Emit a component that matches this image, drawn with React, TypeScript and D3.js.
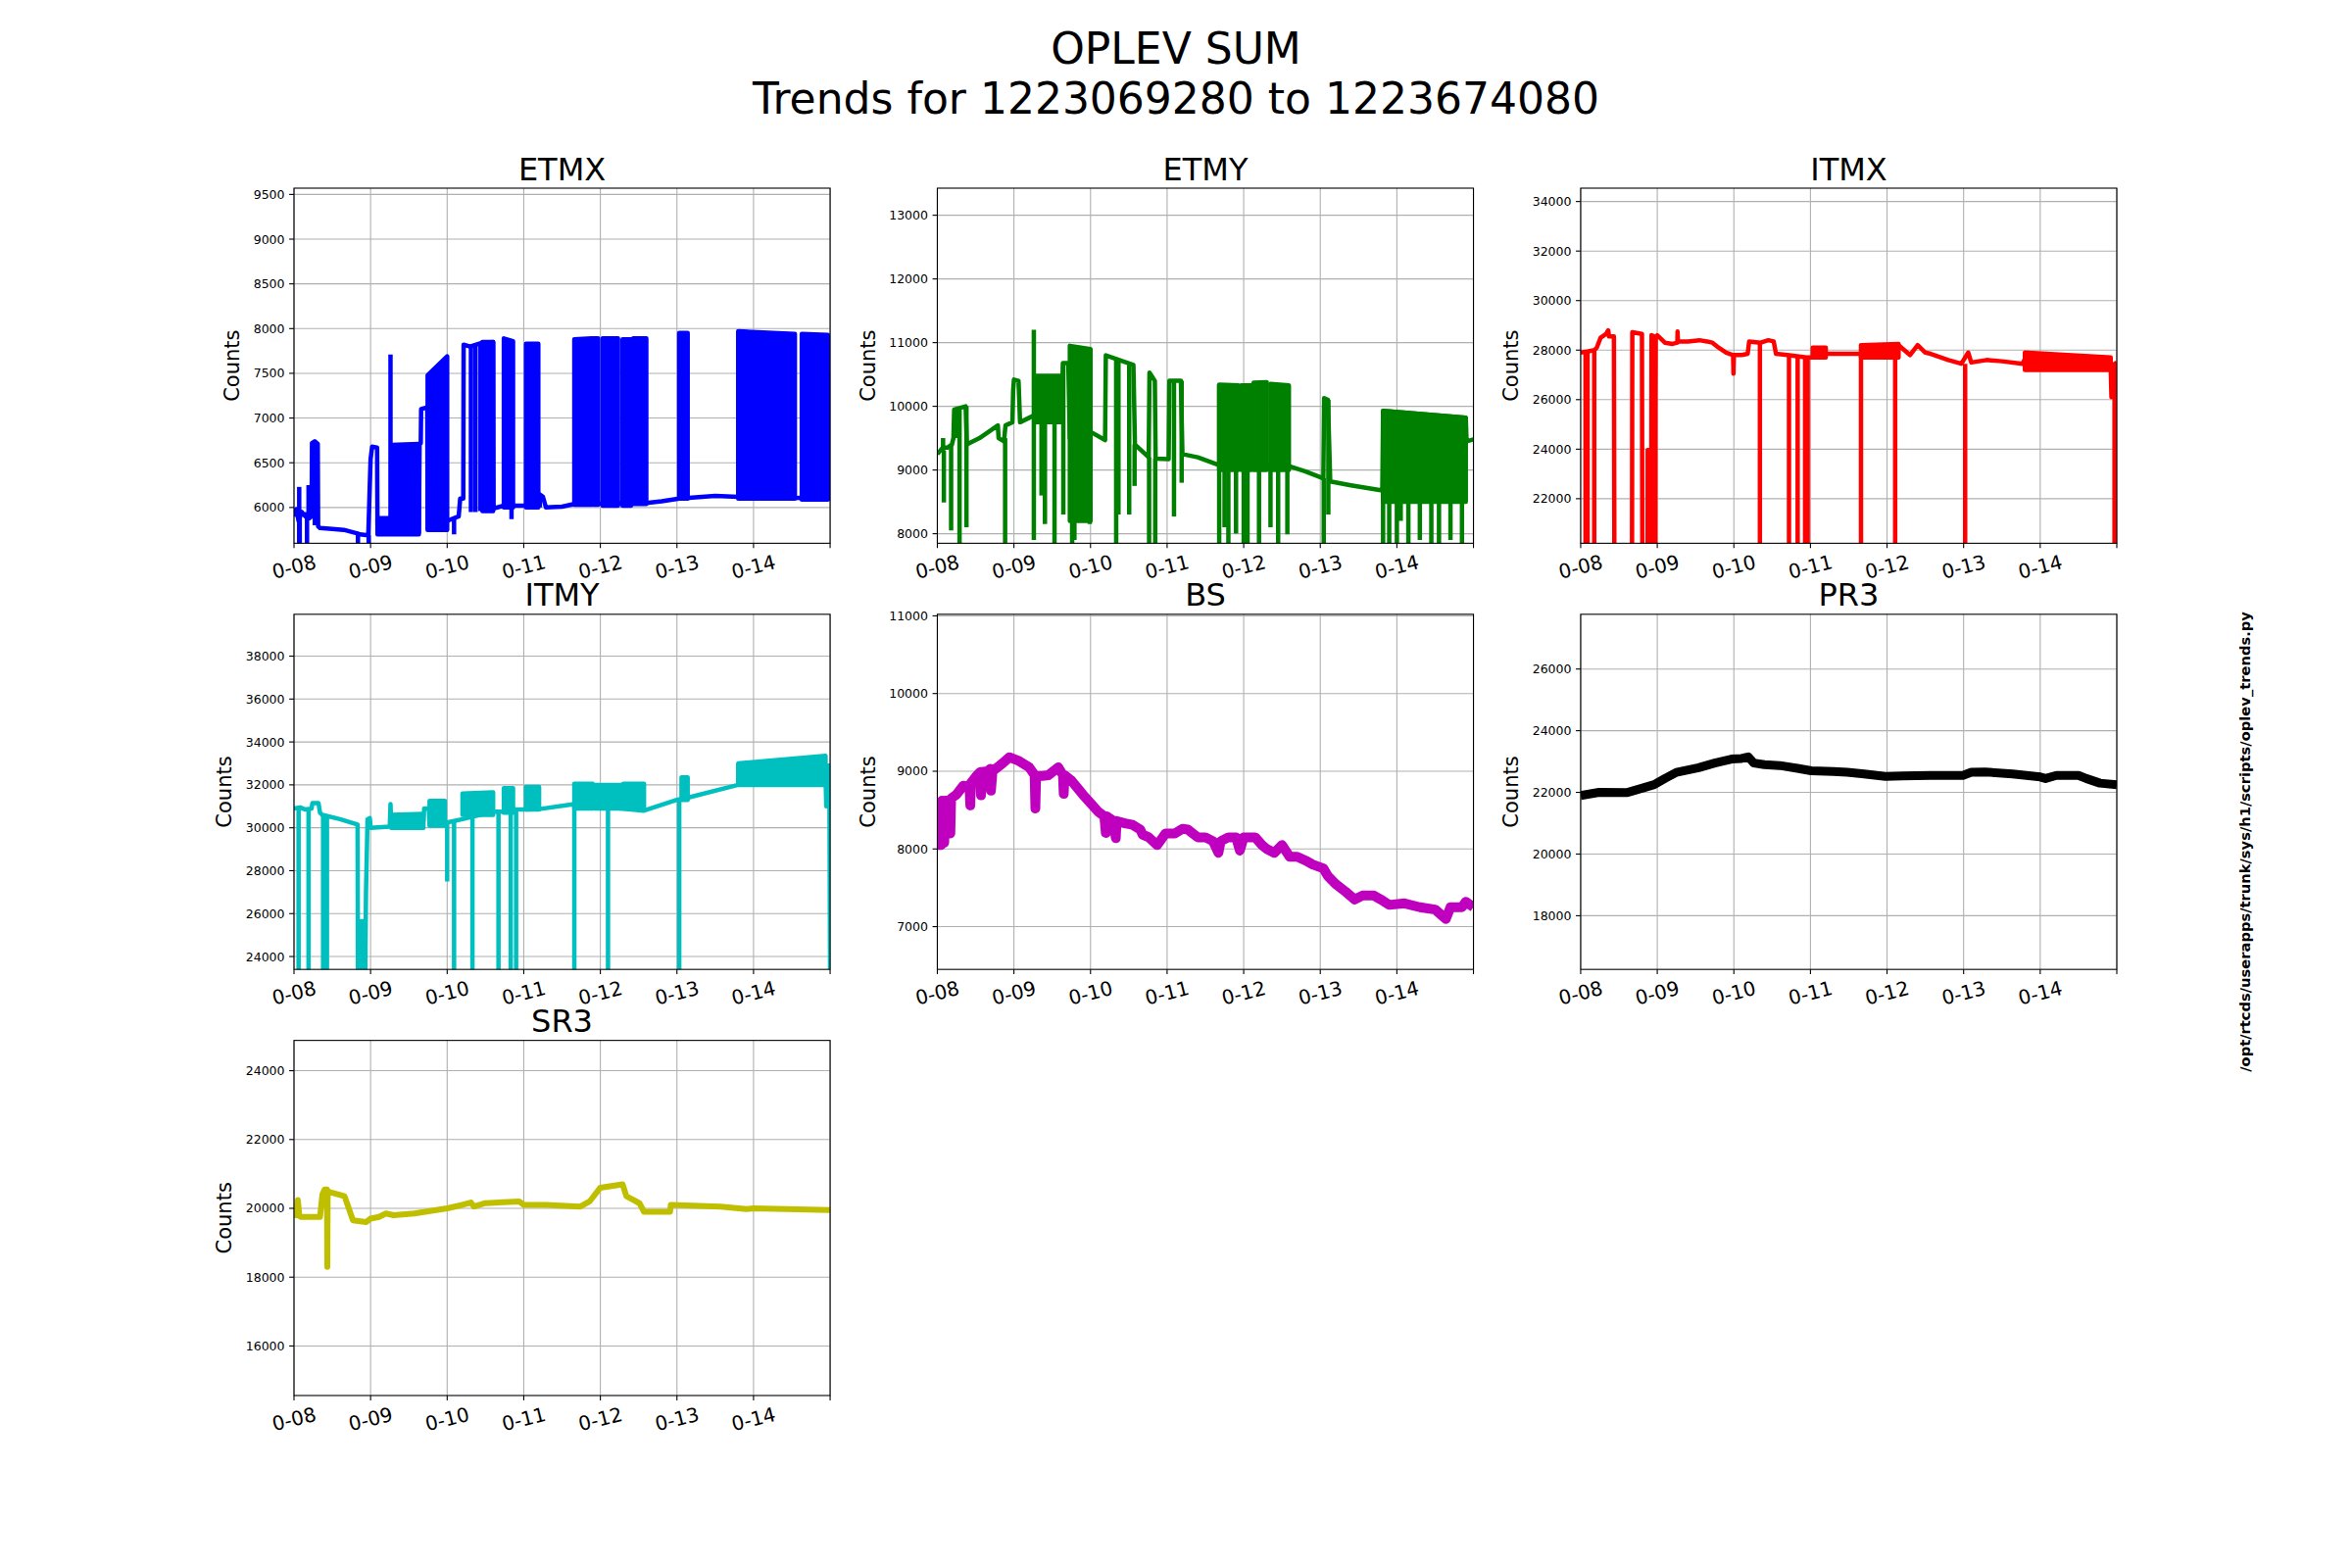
import React, { useEffect } from "react";
import * as d3 from "d3";

// x values are days since the start of the trend window (0-08 .. 0-15)
const dayTicks = [0, 1, 2, 3, 4, 5, 6, 7];
const dayLabels = ["0-08", "0-09", "0-10", "0-11", "0-12", "0-13", "0-14", ""];

const suptitle = ["OPLEV SUM", "Trends for 1223069280 to 1223674080"];
const scriptPath = "/opt/rtcds/userapps/trunk/sys/h1/scripts/oplev_trends.py";

// ---- ETMX ----
const etmxDomain = [5600, 9570];
const etmxTicks = [6000, 6500, 7000, 7500, 8000, 8500, 9000, 9500];
const etmxTrace = [
  [0, 5900], [0.03, 5980], [0.06, 5850], [0.1, 5950], [0.15, 5900], [0.2, 5880],
  [0.23, 5900], [0.235, 6720], [0.27, 6740], [0.31, 6710], [0.315, 5790],
  [0.34, 5770], [0.5, 5760], [0.65, 5750], [0.83, 5710], [0.86, 5700],
  [0.97, 5690], [1.0, 6540], [1.02, 6680], [1.085, 6670], [1.09, 5800],
  [1.25, 5880], [1.27, 5750], [1.63, 5720], [1.64, 6710], [1.655, 6720],
  [1.66, 7100], [1.74, 7120], [1.745, 5760], [2.0, 5850], [2.15, 5900],
  [2.17, 6100], [2.21, 6100], [2.215, 7820], [2.3, 7800], [2.45, 7840],
  [2.6, 7850], [2.605, 5990], [2.74, 6020], [2.86, 6020], [3.03, 6020],
  [3.19, 6030], [3.2, 6150], [3.25, 6120], [3.29, 6000], [3.5, 6010],
  [3.66, 6040], [4.6, 6050], [4.8, 6070], [5.03, 6100], [5.5, 6130],
  [5.8, 6120], [7.0, 6100],
];
const etmxSpikes = [
  [0.068, 5500, 6230], [0.075, 5500, 5950], [0.17, 5500, 5950], [0.19, 5900, 6250],
  [0.272, 5800, 6740], [0.835, 5500, 5710], [0.975, 5500, 5690], [1.26, 5750, 7710],
  [2.09, 5700, 5880], [2.31, 5950, 7820], [2.37, 5950, 7840], [2.435, 5960, 7850],
  [2.84, 5870, 6020], [3.21, 6000, 6150],
];
const etmxBands = [
  [1.09, 1.25, 5700, 5880, 5880], [1.27, 1.63, 5700, 6700, 6710],
  [1.745, 2.0, 5750, 7480, 7690], [2.46, 2.6, 5960, 7850, 7850],
  [2.74, 2.86, 6000, 7890, 7860], [3.03, 3.19, 6000, 7830, 7830],
  [3.66, 3.89, 6030, 7880, 7890], [3.91, 3.97, 6030, 7890, 7890],
  [4.03, 4.23, 6020, 7890, 7890], [4.29, 4.4, 6020, 7880, 7880],
  [4.43, 4.6, 6040, 7890, 7890], [5.03, 5.14, 6100, 7950, 7950],
  [5.8, 6.54, 6100, 7970, 7940], [6.63, 6.97, 6090, 7940, 7930],
  [6.97, 7.0, 6100, 7480, 7480],
];

// ---- ETMY ----
const etmyDomain = [7850, 13425];
const etmyTicks = [8000, 9000, 10000, 11000, 12000, 13000];
const etmyTrace = [
  [0, 9250], [0.07, 9350], [0.13, 9350], [0.19, 9400], [0.21, 9500], [0.22, 9950],
  [0.37, 10000], [0.385, 9400], [0.55, 9500], [0.79, 9700], [0.8, 9500],
  [0.87, 9450], [0.89, 9700], [0.98, 9750], [0.99, 10250], [1.0, 10420],
  [1.06, 10400], [1.08, 9750], [1.25, 9850], [1.28, 9850], [1.62, 9900],
  [1.64, 10680], [1.71, 10680], [1.73, 9500], [2.0, 9600], [2.19, 9470],
  [2.2, 10800], [2.56, 10650], [2.58, 9400], [2.76, 9200], [2.77, 10530],
  [2.84, 10400], [2.85, 9180], [3.02, 9170], [3.03, 10400], [3.18, 10400],
  [3.2, 9250], [3.4, 9200], [3.67, 9080], [4.1, 9100], [4.59, 9060],
  [4.8, 8980], [5.04, 8870], [5.05, 10130], [5.1, 10100], [5.13, 8820],
  [5.4, 8760], [5.81, 8680], [5.82, 9930], [6.9, 9820], [6.91, 9450], [7.0, 9480],
];
const etmySpikes = [
  [0.075, 9300, 9500], [0.085, 8490, 9300], [0.18, 8050, 9380], [0.26, 9500, 9960],
  [0.29, 7700, 9950], [0.38, 8100, 10000], [0.885, 7700, 9500], [1.26, 7900, 11200],
  [1.36, 8600, 9800], [1.405, 8150, 9900], [1.53, 7700, 9900], [1.645, 8300, 10680],
  [1.76, 7700, 9000], [1.79, 7900, 9000], [1.9, 8200, 9000], [1.99, 8150, 9000],
  [2.335, 7700, 10750], [2.365, 8300, 10720], [2.505, 8300, 10650], [2.575, 8750, 9400],
  [2.765, 7700, 9200], [2.845, 7700, 9180], [3.09, 8270, 10400], [3.19, 8800, 10400],
  [3.68, 7700, 10340], [3.75, 8100, 9100], [3.8, 7700, 9100], [3.9, 8000, 9100],
  [4.0, 7700, 9100], [4.05, 7700, 9100], [4.2, 7700, 9100], [4.35, 8100, 9100],
  [4.45, 7700, 9100], [4.57, 7990, 10330], [5.045, 7700, 8870], [5.105, 8300, 10100],
  [5.82, 7700, 9900], [5.9, 7700, 9900], [6.0, 7700, 9900], [6.05, 8200, 9900],
  [6.15, 7700, 9880], [6.3, 7900, 9870], [6.45, 7700, 9860], [6.55, 7700, 9850],
  [6.7, 7900, 9840], [6.85, 7700, 9830],
];
const etmyBands = [
  [1.28, 1.62, 9750, 10480, 10480], [1.73, 2.0, 8200, 10950, 10900],
  [3.68, 3.93, 9000, 10340, 10330], [3.97, 4.1, 9000, 10330, 10330],
  [4.13, 4.3, 9000, 10370, 10380], [4.35, 4.59, 9000, 10350, 10330],
  [5.82, 6.9, 8500, 9930, 9820],
];

// ---- ITMX ----
const itmxDomain = [20200, 34540];
const itmxTicks = [22000, 24000, 26000, 28000, 30000, 32000, 34000];
const itmxTrace = [
  [0, 27900], [0.1, 27950], [0.18, 28000], [0.21, 28100], [0.26, 28500],
  [0.33, 28650], [0.36, 28800], [0.37, 28550], [0.434, 28550], [0.44, 19000],
  [0.67, 19000], [0.674, 28720], [0.8, 28650], [0.805, 19000], [0.874, 19000],
  [0.875, 23960], [0.905, 23960], [0.908, 19000], [0.92, 19000], [0.925, 28600],
  [0.96, 28550], [0.962, 19000], [0.975, 19000], [0.977, 26100], [0.98, 28500],
  [1.0, 28600], [1.1, 28300], [1.2, 28250], [1.262, 28300], [1.265, 28750],
  [1.27, 28350], [1.4, 28350], [1.55, 28400], [1.65, 28350], [1.72, 28300],
  [1.8, 28100], [1.9, 27900], [1.99, 27800], [1.995, 27050], [2.0, 27800],
  [2.1, 27800], [2.18, 27850], [2.2, 28350], [2.35, 28300], [2.45, 28400],
  [2.52, 28350], [2.55, 27850], [2.7, 27800], [2.95, 27700], [3.03, 27700],
  [3.2, 27850], [3.5, 27850], [3.66, 27850], [4.15, 28200], [4.3, 27800],
  [4.4, 28200], [4.5, 27900], [4.57, 27850], [4.8, 27600], [4.97, 27450],
  [5.06, 27900], [5.1, 27500], [5.3, 27600], [5.5, 27550], [5.77, 27450],
  [5.8, 27650], [6.92, 27300], [6.93, 26100], [6.95, 27400], [7.0, 27500],
];
const itmxSpikes = [
  [0.063, 19000, 27900], [0.09, 19000, 27950], [0.177, 19000, 28000],
  [2.34, 19000, 28300], [2.72, 19000, 27850], [2.833, 19000, 27800],
  [2.93, 19000, 27750], [2.964, 19000, 27700], [3.66, 19000, 27850],
  [4.106, 19000, 28200], [5.02, 19000, 27450], [6.97, 19000, 27400],
];
const itmxBands = [
  [3.03, 3.2, 27700, 28100, 28100], [3.66, 4.15, 27700, 28200, 28250],
  [5.8, 6.92, 27200, 27900, 27700],
];

// ---- ITMY ----
const itmyDomain = [23400, 39950];
const itmyTicks = [24000, 26000, 28000, 30000, 32000, 34000, 36000, 38000];
const itmyTrace = [
  [0, 30900], [0.08, 30950], [0.15, 30850], [0.23, 30900], [0.24, 31150],
  [0.32, 31150], [0.34, 30700], [0.37, 30600], [0.6, 30400], [0.83, 30150],
  [0.835, 23000], [0.87, 23000], [0.875, 25650], [0.905, 25650], [0.91, 23000],
  [0.93, 23000], [0.94, 27000], [0.96, 30400], [0.99, 30450], [1.0, 30000],
  [1.25, 30050], [1.26, 31100], [1.27, 30100], [1.69, 30300], [1.7, 30900],
  [1.76, 30900], [1.77, 30200], [1.97, 30300], [2.0, 30250], [2.2, 30400],
  [2.6, 30750], [2.74, 30750], [2.86, 30850], [3.03, 30850], [3.2, 30870],
  [3.66, 31100], [4.57, 30800], [5.0, 31300], [5.06, 31350], [5.14, 31400],
  [5.8, 32000], [6.94, 32400], [6.95, 31000], [6.96, 32900], [6.99, 32900],
  [7.0, 23000],
];
const itmySpikes = [
  [0.06, 23000, 30900], [0.19, 23000, 30850], [0.38, 23000, 30650],
  [0.43, 23000, 30550], [2.0, 27500, 30300], [2.09, 23000, 30300],
  [2.33, 23000, 30600], [2.67, 23000, 30700], [2.83, 23000, 30800],
  [2.9, 23000, 30850], [3.66, 23000, 31050], [4.1, 23000, 30950],
  [5.03, 23000, 31300],
];
const itmyBands = [
  [1.27, 1.69, 30000, 30600, 30650], [1.77, 1.97, 30100, 31250, 31250],
  [2.2, 2.6, 30600, 31600, 31650], [2.74, 2.86, 30700, 31850, 31850],
  [3.03, 3.2, 30850, 31900, 31900], [3.66, 3.9, 30900, 32050, 32050],
  [3.93, 4.27, 30900, 32000, 32000], [4.3, 4.57, 30900, 32050, 32050],
  [5.06, 5.14, 31300, 32350, 32350], [5.8, 6.94, 32000, 33000, 33350],
];

// ---- BS ----
const bsDomain = [6450, 11020];
const bsTicks = [7000, 8000, 9000, 10000, 11000];
const bsTrace = [
  [0, 8500], [0.01, 8050], [0.03, 8550], [0.05, 8050], [0.06, 8620], [0.08, 8600],
  [0.09, 8080], [0.1, 8620], [0.16, 8620], [0.17, 8200], [0.18, 8650], [0.25, 8700],
  [0.34, 8815], [0.42, 8800], [0.43, 8560], [0.44, 8850], [0.52, 8950], [0.56, 8990],
  [0.57, 8690], [0.58, 8990], [0.66, 9000], [0.69, 9030], [0.7, 8750], [0.72, 9000],
  [0.85, 9100], [0.94, 9180], [1.07, 9130], [1.2, 9050], [1.27, 8950], [1.28, 8520],
  [1.29, 8940], [1.37, 8940], [1.45, 8950], [1.58, 9050], [1.64, 8950], [1.65, 8710],
  [1.66, 8950], [1.75, 8880], [1.9, 8700], [2.01, 8580], [2.1, 8480], [2.18, 8420],
  [2.2, 8205], [2.21, 8420], [2.3, 8360], [2.33, 8140], [2.34, 8360], [2.45, 8330],
  [2.55, 8310], [2.65, 8250], [2.68, 8185], [2.76, 8150], [2.87, 8050], [2.98, 8200],
  [3.1, 8200], [3.2, 8260], [3.27, 8250], [3.4, 8150], [3.5, 8150], [3.6, 8100],
  [3.67, 7950], [3.7, 8100], [3.8, 8150], [3.9, 8150], [3.95, 7980], [4.0, 8150],
  [4.15, 8150], [4.24, 8050], [4.3, 8000], [4.4, 7950], [4.5, 8050], [4.6, 7900],
  [4.7, 7900], [4.81, 7850], [4.9, 7800], [5.04, 7750], [5.1, 7650], [5.2, 7550],
  [5.33, 7450], [5.45, 7350], [5.55, 7400], [5.7, 7400], [5.79, 7350], [5.9, 7280],
  [6.1, 7300], [6.3, 7250], [6.5, 7220], [6.64, 7100], [6.7, 7250], [6.85, 7250],
  [6.9, 7320], [7.0, 7250],
];

// ---- PR3 ----
const pr3Domain = [16260, 27775];
const pr3Ticks = [18000, 20000, 22000, 24000, 26000];
const pr3Trace = [
  [0, 21900], [0.24, 22000], [0.6, 21990], [0.82, 22150], [0.96, 22250],
  [1.1, 22450], [1.25, 22650], [1.54, 22800], [1.75, 22950], [1.97, 23080],
  [2.1, 23100], [2.19, 23150], [2.26, 22950], [2.4, 22900], [2.6, 22870],
  [2.83, 22780], [3.01, 22700], [3.3, 22680], [3.48, 22650], [3.7, 22600],
  [3.98, 22520], [4.2, 22530], [4.56, 22550], [4.99, 22550], [5.1, 22650],
  [5.28, 22660], [5.64, 22600], [6.0, 22500], [6.07, 22450], [6.21, 22550],
  [6.5, 22550], [6.6, 22450], [6.78, 22300], [7.0, 22250],
];

// ---- SR3 ----
const sr3Domain = [14560, 24880];
const sr3Ticks = [16000, 18000, 20000, 22000, 24000];
const sr3Trace = [
  [0, 19800], [0.02, 19800], [0.05, 20240], [0.07, 19780], [0.09, 19750],
  [0.34, 19750], [0.37, 20400], [0.4, 20550], [0.43, 20550], [0.435, 18300],
  [0.44, 20500], [0.5, 20450], [0.66, 20350], [0.7, 20100], [0.77, 19650],
  [0.94, 19600], [1.0, 19700], [1.11, 19750], [1.2, 19850], [1.3, 19800],
  [1.57, 19850], [2.0, 20000], [2.2, 20100], [2.31, 20170], [2.35, 20050],
  [2.5, 20150], [2.94, 20200], [3.0, 20100], [3.29, 20100], [3.74, 20050],
  [3.86, 20200], [4.0, 20600], [4.29, 20700], [4.34, 20350], [4.51, 20150],
  [4.57, 19900], [4.91, 19900], [4.92, 20100], [5.57, 20050], [5.91, 19980],
  [6.0, 20000], [7.0, 19950],
];

const panels = [
  { name: "ETMX", color: "#0000ff", domain: etmxDomain, ticks: etmxTicks, trace: etmxTrace, spikes: etmxSpikes, bands: etmxBands, lw: 4.5 },
  { name: "ETMY", color: "#008000", domain: etmyDomain, ticks: etmyTicks, trace: etmyTrace, spikes: etmySpikes, bands: etmyBands, lw: 4.5 },
  { name: "ITMX", color: "#ff0000", domain: itmxDomain, ticks: itmxTicks, trace: itmxTrace, spikes: itmxSpikes, bands: itmxBands, lw: 4.5 },
  { name: "ITMY", color: "#00bfbf", domain: itmyDomain, ticks: itmyTicks, trace: itmyTrace, spikes: itmySpikes, bands: itmyBands, lw: 4.5 },
  { name: "BS", color: "#bf00bf", domain: bsDomain, ticks: bsTicks, trace: bsTrace, spikes: [], bands: [], lw: 10 },
  { name: "PR3", color: "#000000", domain: pr3Domain, ticks: pr3Ticks, trace: pr3Trace, spikes: [], bands: [], lw: 9 },
  { name: "SR3", color: "#bfbf00", domain: sr3Domain, ticks: sr3Ticks, trace: sr3Trace, spikes: [], bands: [], lw: 6 },
];

const W = 2400;
const H = 1600;
const FONT = "DejaVu Sans";

// matplotlib default subplot grid: left .125, right .9, top .88, bottom .11, 0.2 spacing
const figLeft = 0.125 * W;
const figTop = (1 - 0.88) * H;
const axW = (0.775 * W) / 3.4;
const axH = (0.77 * H) / 3.4;
const gapW = axW * 0.2;
const gapH = axH * 0.2;

const Panel = ({ p, i }) => {
  const col = i % 3;
  const row = Math.floor(i / 3);
  const x0 = figLeft + col * (axW + gapW);
  const y0 = figTop + row * (axH + gapH);

  const x = d3.scaleLinear().domain([0, 7]).range([0, axW]);
  const y = d3.scaleLinear().domain(p.domain).range([axH, 0]);

  const line = d3.line().x((d) => x(d[0])).y((d) => y(d[1]));
  const area = d3
    .area()
    .x((d) => x(d[0]))
    .y0((d) => y(d[1]))
    .y1((d) => y(d[2]));

  const clipId = `clip-${p.name}`;
  const maxChars = d3.max(p.ticks, (t) => String(t).length);
  const tickW = maxChars * 0.636 * 12.5;

  return (
    <g transform={`translate(${x0},${y0})`}>
      <defs>
        <clipPath id={clipId}>
          <rect x={0} y={0} width={axW} height={axH} />
        </clipPath>
      </defs>

      {/* grid */}
      {dayTicks.map((t) => (
        <line key={`gx${t}`} x1={x(t)} x2={x(t)} y1={0} y2={axH} stroke="#b0b0b0" strokeWidth={1.1} />
      ))}
      {p.ticks.map((t) => (
        <line key={`gy${t}`} x1={0} x2={axW} y1={y(t)} y2={y(t)} stroke="#b0b0b0" strokeWidth={1.1} />
      ))}

      <g clipPath={`url(#${clipId})`}>
        {p.bands.map((b, k) => (
          <path
            key={`b${k}`}
            d={area([
              [b[0], b[2], b[3]],
              [b[1], b[2], b[4]],
            ])}
            fill={p.color}
            stroke={p.color}
            strokeWidth={p.lw}
            strokeLinejoin="round"
          />
        ))}
        <path d={line(p.trace)} fill="none" stroke={p.color} strokeWidth={p.lw} strokeLinejoin="round" />
        {p.spikes.map((s, k) => (
          <line
            key={`s${k}`}
            x1={x(s[0])}
            x2={x(s[0])}
            y1={y(s[1])}
            y2={y(s[2])}
            stroke={p.color}
            strokeWidth={p.lw}
          />
        ))}
      </g>

      <rect x={0} y={0} width={axW} height={axH} fill="none" stroke="#000" strokeWidth={1.1} />

      {/* y axis */}
      {p.ticks.map((t) => (
        <g key={`ty${t}`} transform={`translate(0,${y(t)})`}>
          <line x1={-4.9} x2={0} stroke="#000" strokeWidth={1.1} />
          <text x={-9.5} textAnchor="end" dominantBaseline="central" fontSize={12.5} fill="#000">
            {t}
          </text>
        </g>
      ))}
      <text
        transform={`translate(${-10 - tickW - 21},${axH / 2}) rotate(-90)`}
        textAnchor="middle"
        dominantBaseline="central"
        fontSize={21}
        fill="#000"
      >
        Counts
      </text>

      {/* x axis */}
      {dayTicks.map((t, k) => (
        <g key={`tx${t}`} transform={`translate(${x(t)},${axH})`}>
          <line y1={0} y2={4.9} stroke="#000" strokeWidth={1.1} />
          {dayLabels[k] && (
            <text
              transform="translate(0,24) rotate(-14)"
              textAnchor="middle"
              dominantBaseline="central"
              fontSize={20}
              fill="#000"
            >
              {dayLabels[k]}
            </text>
          )}
        </g>
      ))}

      <text x={axW / 2} y={-8.5} textAnchor="middle" fontSize={32} fill="#000">
        {p.name}
      </text>
    </g>
  );
};

export default function App() {
  useEffect(() => {
    document.body.style.margin = "0";
  }, []);

  return (
    <svg
      width={W}
      height={H}
      viewBox={`0 0 ${W} ${H}`}
      style={{ display: "block", background: "#fff" }}
      fontFamily={FONT}
    >
      <rect x={0} y={0} width={W} height={H} fill="#fff" />
      <text x={W / 2} y={65} textAnchor="middle" fontSize={44} fill="#000">
        {suptitle[0]}
      </text>
      <text x={W / 2} y={116} textAnchor="middle" fontSize={44} fill="#000">
        {suptitle[1]}
      </text>

      {panels.map((p, i) => (
        <Panel key={p.name} p={p} i={i} />
      ))}

      <text
        transform={`translate(2290,859) rotate(-90)`}
        textAnchor="middle"
        dominantBaseline="central"
        fontSize={14.7}
        fontWeight="bold"
        fill="#000"
      >
        {scriptPath}
      </text>
    </svg>
  );
}
